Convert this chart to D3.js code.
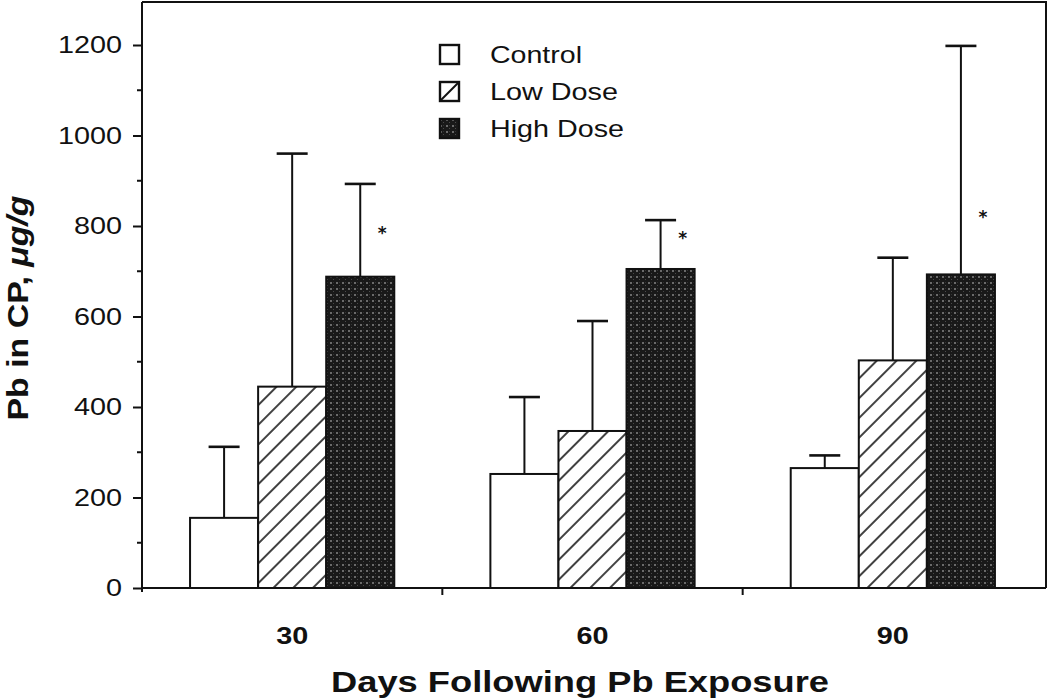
<!DOCTYPE html>
<html><head><meta charset="utf-8">
<script src="https://cdn.jsdelivr.net/npm/d3@7"></script>
<style>body{margin:0;background:#fff}svg{display:block}</style>
</head><body>
<svg id="c" width="1050" height="699"></svg>
<script>
const days = ["30", "60", "90"];
const series = ["Control", "Low Dose", "High Dose"];
const controlMean = [155, 252, 265];
const controlSD = [157, 170, 28];
const lowMean = [445, 347, 503];
const lowSD = [515, 243, 227];
const highMean = [688, 705, 693];
const highSD = [205, 108, 505];
const sigMarkY = [795, 785, 830];
const yTicks = [0, 200, 400, 600, 800, 1000, 1200];
const yMinor = [100, 300, 500, 700, 900, 1100];

const svg = d3.select("#c");
const ink = "#111";
const L = 142, R = 1046, T = 2, B = 588;
const stretch = 1.2;

const defs = svg.append("defs");
const hatch = defs.append("pattern").attr("id","hatch").attr("patternUnits","userSpaceOnUse")
  .attr("width",14).attr("height",14).attr("patternTransform","rotate(45)");
hatch.append("rect").attr("width",14).attr("height",14).attr("fill","#fff");
hatch.append("line").attr("x1",7).attr("x2",7).attr("y1",0).attr("y2",14).attr("stroke",ink).attr("stroke-width",1.6);
const dots = defs.append("pattern").attr("id","dots").attr("patternUnits","userSpaceOnUse")
  .attr("width",6).attr("height",6);
dots.append("rect").attr("width",6).attr("height",6).attr("fill","#191919");
dots.append("rect").attr("x",0).attr("y",0).attr("width",2).attr("height",2).attr("fill","#6a6a6a");
dots.append("rect").attr("x",3).attr("y",3).attr("width",1).attr("height",1).attr("fill","#4a4a4a");
dots.append("rect").attr("x",3).attr("y",0).attr("width",1).attr("height",1).attr("fill","#333");
const fills = ["#fff", "url(#hatch)", "url(#dots)"];

const y = d3.scaleLinear().domain([0, 1300]).range([B, B - 1300 * 0.4525]);
const x0 = d3.scaleBand().domain(days).range([L, R - 3]).paddingInner(0.32).paddingOuter(0.16);
const x1 = d3.scaleBand().domain(series).range([0, x0.bandwidth()]);

const data = days.map((d, i) => ({
  day: d,
  vals: [
    {s: series[0], m: controlMean[i], sd: controlSD[i]},
    {s: series[1], m: lowMean[i], sd: lowSD[i]},
    {s: series[2], m: highMean[i], sd: highSD[i]}
  ],
  sig: sigMarkY[i]
}));

const g = svg.append("g");
data.forEach(d => {
  d.vals.forEach((v, j) => {
    const cx = x0(d.day) + x1(v.s) + x1.bandwidth() / 2;
    g.append("line").attr("x1", cx).attr("x2", cx).attr("y1", y(v.m)).attr("y2", y(v.m + v.sd))
      .attr("stroke", ink).attr("stroke-width", 2);
    g.append("line").attr("x1", cx - 15.5).attr("x2", cx + 15.5).attr("y1", y(v.m + v.sd)).attr("y2", y(v.m + v.sd))
      .attr("stroke", ink).attr("stroke-width", 2.6);
  });
});
data.forEach(d => {
  g.selectAll(null).data(d.vals).join("rect")
    .attr("x", v => x0(d.day) + x1(v.s))
    .attr("y", v => y(v.m))
    .attr("width", x1.bandwidth())
    .attr("height", v => y(0) - y(v.m))
    .attr("fill", (v, j) => fills[j])
    .attr("stroke", ink).attr("stroke-width", 2);
  g.append("text").attr("x", x0(d.day) + x0.bandwidth() - 12).attr("y", y(d.sig) + 11)
    .attr("text-anchor", "middle").attr("font-family", "DejaVu Sans, sans-serif").attr("font-weight", "bold")
    .attr("font-size", 17).attr("fill", ink).text("*");
});

svg.append("path").attr("d", `M${L},${T}H${R}V${B}`).attr("fill", "none").attr("stroke", ink).attr("stroke-width", 2);

const yAxis = svg.append("g").attr("transform", `translate(${L},0)`)
  .call(d3.axisLeft(y).tickValues(yTicks).tickFormat(d3.format("d")).tickSize(9).tickPadding(11).tickSizeOuter(0));
yAxis.select(".domain").attr("d", `M0,${T}V${B + 4}`).attr("stroke", ink).attr("stroke-width", 2);
yAxis.selectAll(".tick line").attr("stroke", ink).attr("stroke-width", 2);
yAxis.selectAll(".tick text")
  .attr("font-family", "Liberation Sans, Arial, sans-serif").attr("font-size", 24).attr("fill", ink)
  .attr("x", -20 / stretch).attr("transform", `scale(${stretch},1)`);
svg.append("g").selectAll("line").data(yMinor).join("line")
  .attr("x1", L - 5).attr("x2", L).attr("y1", d => y(d)).attr("y2", d => y(d))
  .attr("stroke", ink).attr("stroke-width", 2);

svg.append("line").attr("x1", L).attr("x2", R).attr("y1", B).attr("y2", B).attr("stroke", ink).attr("stroke-width", 2);
const sepTicks = [0, 1].map(i => (x0(days[i]) + x0.bandwidth() + x0(days[i + 1])) / 2);
svg.append("g").selectAll("line").data(sepTicks).join("line")
  .attr("x1", d => d).attr("x2", d => d).attr("y1", B).attr("y2", B + 7)
  .attr("stroke", ink).attr("stroke-width", 2);
svg.append("g").selectAll("text").data(days).join("text")
  .attr("transform", d => `translate(${x0(d) + x0.bandwidth() / 2},644) scale(${stretch},1)`)
  .attr("text-anchor", "middle").attr("font-family", "Liberation Sans, Arial, sans-serif")
  .attr("font-weight", "bold").attr("font-size", 24).attr("fill", ink).text(d => d);

svg.append("text").attr("x", 580).attr("y", 692).attr("text-anchor", "middle")
  .attr("font-family", "Liberation Sans, Arial, sans-serif").attr("font-weight", "bold")
  .attr("font-size", 30).attr("fill", ink).attr("textLength", 498).attr("lengthAdjust", "spacingAndGlyphs")
  .text("Days Following Pb Exposure");
const yt = svg.append("text").attr("transform", "translate(28,308) rotate(-90)").attr("text-anchor", "middle")
  .attr("font-family", "Liberation Sans, Arial, sans-serif").attr("font-weight", "bold")
  .attr("font-size", 29).attr("fill", ink).attr("textLength", 225).attr("lengthAdjust", "spacingAndGlyphs");
yt.append("tspan").text("Pb in CP, ");
yt.append("tspan").attr("font-style", "italic").text("μg/g");

const lg = svg.append("g").attr("transform", "translate(440,45)");
const rows = lg.selectAll("g").data(series).join("g").attr("transform", (d, i) => `translate(0,${i * 37})`);
rows.append("rect").attr("width", 19).attr("height", 19).attr("fill", (d, i) => i === 2 ? "url(#dots)" : "#fff")
  .attr("stroke", ink).attr("stroke-width", 2.4);
rows.filter((d, i) => i === 1).append("line").attr("x1", 1).attr("y1", 18).attr("x2", 18).attr("y2", 1)
  .attr("stroke", ink).attr("stroke-width", 2);
const legW = [92, 128, 134];
rows.append("text").attr("x", 50).attr("y", 18).attr("font-family", "Liberation Sans, Arial, sans-serif")
  .attr("font-size", 24).attr("fill", ink)
  .attr("textLength", (d, i) => legW[i]).attr("lengthAdjust", "spacingAndGlyphs").text(d => d);
</script>
</body></html>
